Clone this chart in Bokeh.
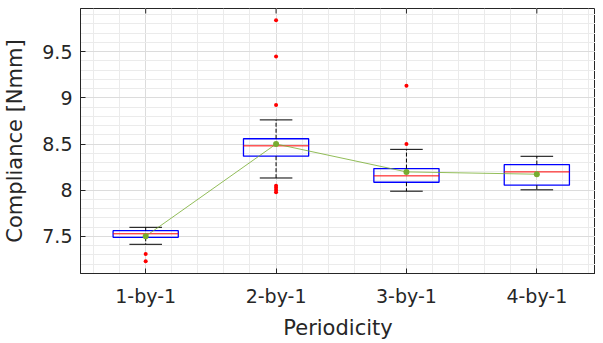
import numpy as np
from bokeh.plotting import figure
from bokeh.models import FixedTicker, SingleIntervalTicker, Range1d
from bokeh.embed import file_html
from bokeh.resources import INLINE

# ---- data ----
categories = ["1-by-1", "2-by-1", "3-by-1", "4-by-1"]
lower_whisker = [7.414, 8.132, 7.989, 8.004]
q1 = [7.490, 8.368, 8.086, 8.054]
median = [7.528, 8.480, 8.155, 8.198]
q3 = [7.562, 8.557, 8.234, 8.277]
upper_whisker = [7.598, 8.761, 8.442, 8.367]
means = [7.502, 8.500, 8.198, 8.173]
outlier_group = [1, 1, 2, 2, 2, 2, 2, 2, 2, 3, 3]
outlier_value = [7.310, 7.231, 9.841, 9.446, 8.922, 8.047, 8.026, 8.002, 7.978, 9.130, 8.500]
y_ticks_interval = 0.5
x_label = "Periodicity"
y_label = "Compliance [Nmm]"

x = np.arange(1, len(categories) + 1, dtype=float)
box_half = 0.25
cap_half = 0.125

FONT = "DejaVu Sans"
TXT = "#262626"

X0, X1 = 0.5, 4.45
Y0, Y1 = 7.098, 9.967
TOP, FRAME_H, BOTTOM = 8, 266, 68

p = figure(width=595, height=TOP + FRAME_H + BOTTOM, output_backend="svg", toolbar_location=None,
           x_range=Range1d(X0, X1), y_range=Range1d(Y0, Y1),
           min_border_left=73, min_border_right=0, min_border_top=TOP,
           min_border_bottom=BOTTOM, background_fill_color="white",
           border_fill_color="white")

p.outline_line_color = TXT
p.outline_line_width = 1

# x axis
xt = FixedTicker(ticks=list(x), minor_ticks=list(np.round(np.arange(0.6, 4.5, 0.2), 3)))
p.xaxis.ticker = xt
p.xaxis.major_label_overrides = {float(i): c for i, c in zip(x, categories)}
p.xaxis.axis_label = x_label
# y axis
yt = SingleIntervalTicker(interval=y_ticks_interval, num_minor_ticks=5)
p.yaxis.ticker = yt
p.yaxis.axis_label = y_label

for ax in (p.xaxis[0], p.yaxis[0]):
    ax.axis_line_color = TXT
    ax.major_tick_line_color = TXT
    ax.major_tick_in = 5
    ax.major_tick_out = 0
    ax.minor_tick_in = 0
    ax.minor_tick_out = 0
    ax.major_label_text_font = FONT
    ax.major_label_text_font_size = "19px"
    ax.major_label_text_color = TXT
    ax.axis_label_text_font = FONT
    ax.axis_label_text_font_size = "21px"
    ax.axis_label_text_font_style = "normal"
    ax.axis_label_text_color = TXT

p.xaxis.major_label_standoff = 11
p.xaxis.axis_label_standoff = 6
p.yaxis.major_label_standoff = 8
p.yaxis.axis_label_standoff = 12

# grids
for g in (p.xgrid[0], p.ygrid[0]):
    g.grid_line_color = "#dcdcdc"
    g.grid_line_width = 1
    g.minor_grid_line_color = "#ebebeb"
    g.minor_grid_line_width = 1

# inward ticks along the top edge of the box
tick_len = 5 * (Y1 - Y0) / FRAME_H
p.segment(x0=x, y0=[Y1] * len(x), x1=x, y1=[Y1 - tick_len] * len(x),
          line_color=TXT, line_width=1)

# boxes
p.quad(left=x - box_half, right=x + box_half, bottom=q1, top=q3,
       fill_color=None, line_color="#0000ff", line_width=1.3)
# whiskers
p.segment(x0=x, y0=q3, x1=x, y1=upper_whisker, line_color="black", line_width=1, line_dash="4 2")
p.segment(x0=x, y0=q1, x1=x, y1=lower_whisker, line_color="black", line_width=1, line_dash="4 2")
p.segment(x0=x - cap_half, y0=upper_whisker, x1=x + cap_half, y1=upper_whisker,
          line_color="black", line_width=1)
p.segment(x0=x - cap_half, y0=lower_whisker, x1=x + cap_half, y1=lower_whisker,
          line_color="black", line_width=1)
# medians
p.segment(x0=x - box_half, y0=median, x1=x + box_half, y1=median, line_color="#ff0000", line_width=1)
# outliers
p.scatter(outlier_group, outlier_value, marker="circle", size=4, fill_color="#ff0000",
          line_color=None)
# mean line
p.line(x, means, line_color="#77ac30", line_width=1, line_alpha=0.8)
p.scatter(x, means, marker="circle", size=6, fill_color="#77ac30", line_color=None)

open("out.html", "w").write(file_html(p, INLINE))
